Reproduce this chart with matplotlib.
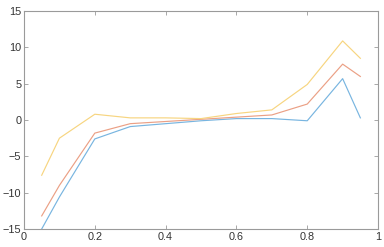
import numpy as np
import matplotlib
matplotlib.use('Agg')
import matplotlib.pyplot as plt

x = [0.05, 0.1, 0.2, 0.3, 0.4, 0.5, 0.6, 0.7, 0.8, 0.9, 0.95]
blue = [-15.0, -10.6, -2.6, -0.9, -0.5, -0.1, 0.2, 0.2, -0.1, 5.7, 0.3]
red = [-13.2, -9.0, -1.8, -0.5, -0.2, 0.1, 0.4, 0.7, 2.2, 7.7, 6.0]
yellow = [-7.6, -2.5, 0.8, 0.3, 0.3, 0.2, 0.9, 1.4, 4.9, 10.9, 8.5]

plt.rcParams['font.family'] = ['Liberation Sans', 'DejaVu Sans']

fig = plt.figure(figsize=(3.84, 2.47), dpi=100)
ax = fig.add_axes([0.0625, 0.073, 0.922, 0.882])

ax.plot(x, blue, color='#78B5E0', linewidth=0.85)
ax.plot(x, red, color='#EBA085', linewidth=0.85)
ax.plot(x, yellow, color='#F7D580', linewidth=0.85)

ax.set_xlim(0, 1)
ax.set_ylim(-15, 15)
ax.set_xticks([0, 0.2, 0.4, 0.6, 0.8, 1])
ax.set_xticklabels(['0', '0.2', '0.4', '0.6', '0.8', '1'])
ax.set_yticks([-15, -10, -5, 0, 5, 10, 15])

for s in ax.spines.values():
    s.set_color('#9a9a9a')
    s.set_linewidth(0.8)
ax.tick_params(direction='in', length=3, width=0.6, color='#9a9a9a',
               labelsize=7.8, labelcolor='#333333', top=True, right=True, pad=2)

fig.savefig('out.png', dpi=100)
